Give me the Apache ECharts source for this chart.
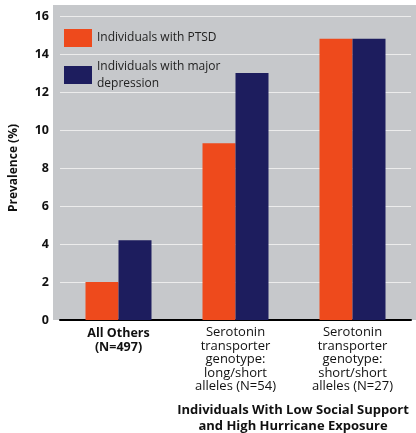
<!DOCTYPE html>
<html>
<head>
<meta charset="utf-8">
<script src="https://cdn.jsdelivr.net/npm/echarts@6/dist/echarts.min.js"></script>
<style>
  html, body { margin: 0; padding: 0; background: #fff; }
  #chart { width: 416px; height: 433px; }
</style>
</head>
<body>
<div id="chart"></div>
<script>
// groups on the x axis
const groups = [
  'All Others\n(N=497)',
  'Serotonin\ntransporter\ngenotype:\nlong/short\nalleles (N=54)',
  'Serotonin\ntransporter\ngenotype:\nshort/short\nalleles (N=27)'
];
const ptsd = [2.0, 9.3, 14.8];
const depression = [4.2, 13.0, 14.8];
const seriesNames = ['Individuals with PTSD', 'Individuals with major\ndepression'];
const yTicks = { min: 0, max: 16, interval: 2 };

const font = '"Open Sans", "DejaVu Sans", sans-serif';

const chart = echarts.init(document.getElementById('chart'));
chart.setOption({
  backgroundColor: '#ffffff',
  animation: false,
  textStyle: { fontFamily: font },
  grid: { left: 57, right: 5, top: 16, bottom: 113, containLabel: false },
  graphic: [
    {
      type: 'rect', z: -10, silent: true,
      shape: { x: 53, y: 5, width: 363, height: 315 },
      style: { fill: '#c6c8cb' }
    },
    {
      type: 'text', silent: true,
      style: {
        text: 'Individuals With Low Social Support\nand High Hurricane Exposure',
        x: 293, y: 402, align: 'center', verticalAlign: 'top',
        font: 'bold 13px ' + font, lineHeight: 16, fill: '#111'
      }
    }
  ],
  legend: {
    orient: 'vertical', left: 59, top: 24,
    itemWidth: 28, itemHeight: 18, itemGap: 11,
    icon: 'rect',
    textStyle: { fontSize: 12, color: '#222', lineHeight: 17 },
    data: [
      { name: seriesNames[0] },
      { name: seriesNames[1] }
    ]
  },
  xAxis: {
    type: 'category',
    data: groups,
    axisLine: { show: true, lineStyle: { color: '#000', width: 2 } },
    axisTick: { show: false },
    axisLabel: {
      interval: 0, margin: 6, color: '#111', fontSize: 13, lineHeight: 13.5,
      formatter: function (v, i) {
        if (i === 0) return v.split('\n').map(function (s) { return '{b|' + s + '}'; }).join('\n');
        return v;
      },
      rich: { b: { fontWeight: 'bold', fontSize: 12.5, lineHeight: 14, color: '#111' } }
    }
  },
  yAxis: {
    type: 'value',
    min: yTicks.min, max: yTicks.max, interval: yTicks.interval,
    name: 'Prevalence (%)',
    nameLocation: 'middle', nameRotate: 90, nameGap: 40,
    nameTextStyle: { fontWeight: 'bold', fontSize: 12, color: '#111' },
    axisLine: { show: false },
    axisTick: { show: false },
    axisLabel: { fontWeight: 'bold', fontSize: 12.5, color: '#111', margin: 11 },
    splitLine: { lineStyle: { color: '#ececec', width: 1 } }
  },
  series: [
    {
      name: seriesNames[0], type: 'bar', data: ptsd,
      barWidth: 33, barGap: '0%',
      itemStyle: { color: '#ee4a1c' }
    },
    {
      name: seriesNames[1], type: 'bar', data: depression,
      barWidth: 33, barGap: '0%',
      itemStyle: { color: '#1d1d5e' }
    }
  ]
});
</script>
</body>
</html>
